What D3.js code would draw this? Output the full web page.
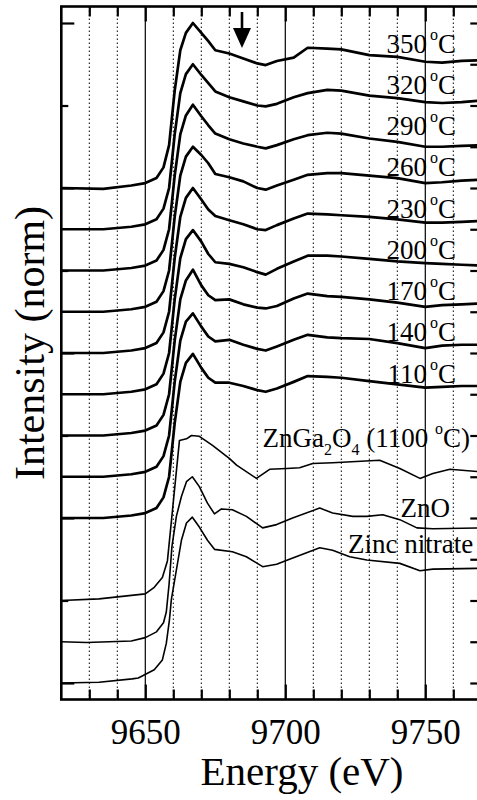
<!DOCTYPE html>
<html><head><meta charset="utf-8">
<script src="https://cdn.jsdelivr.net/npm/d3@7"></script>
<style>
body{margin:0;background:#fff}
svg{display:block}
text{font-family:"Liberation Serif","Times New Roman",serif;fill:#000}
</style>
</head><body>
<svg id="c" width="477" height="800"></svg>
<script>
// ---------- DATA ----------
const thickE = [9620, 9635, 9645, 9650, 9654, 9656.5, 9658.5, 9660.5, 9662.5, 9664.5, 9667, 9670, 9672.5, 9675, 9680, 9685, 9690, 9693, 9697, 9703, 9708, 9715, 9720, 9730, 9740, 9750, 9756, 9763, 9770];
const tempLabels = ["350", "320", "290", "260", "230", "200", "170", "140", "110"];
const tempOffsets = [6, 5.5, 5, 4.5, 4, 3.5, 3, 2.5, 2];
const mu350 = [0, -0.01, 0.03, 0.06, 0.12, 0.25, 0.52, 1.18, 1.67, 1.88, 2.00, 1.88, 1.78, 1.67, 1.63, 1.57, 1.51, 1.49, 1.54, 1.58, 1.70, 1.69, 1.68, 1.61, 1.59, 1.53, 1.52, 1.54, 1.55];
const mu320 = [0, 0, 0.03, 0.06, 0.12, 0.25, 0.50, 1.15, 1.65, 1.88, 2.00, 1.87, 1.77, 1.67, 1.60, 1.55, 1.50, 1.49, 1.52, 1.60, 1.65, 1.69, 1.68, 1.62, 1.59, 1.54, 1.53, 1.54, 1.56];
const mu290 = [0, 0, 0.03, 0.06, 0.12, 0.25, 0.50, 1.15, 1.65, 1.88, 2.01, 1.87, 1.76, 1.66, 1.59, 1.54, 1.50, 1.48, 1.52, 1.59, 1.64, 1.67, 1.66, 1.60, 1.56, 1.50, 1.50, 1.51, 1.52];
const mu260 = [0, 0, 0.03, 0.06, 0.12, 0.25, 0.50, 1.15, 1.65, 1.88, 2.00, 1.90, 1.80, 1.67, 1.63, 1.58, 1.50, 1.48, 1.53, 1.60, 1.66, 1.68, 1.68, 1.65, 1.62, 1.56, 1.57, 1.59, 1.60];
const mu230 = [0, 0, 0.03, 0.06, 0.12, 0.25, 0.50, 1.15, 1.65, 1.88, 2.00, 1.86, 1.74, 1.66, 1.61, 1.56, 1.50, 1.49, 1.55, 1.63, 1.69, 1.68, 1.67, 1.65, 1.62, 1.58, 1.58, 1.59, 1.60];
const mu200 = [0, 0, 0.03, 0.06, 0.12, 0.25, 0.50, 1.15, 1.65, 1.88, 1.99, 1.85, 1.70, 1.60, 1.58, 1.54, 1.48, 1.45, 1.52, 1.61, 1.68, 1.68, 1.67, 1.64, 1.61, 1.59, 1.58, 1.57, 1.56];
const mu170 = [0, 0, 0.03, 0.06, 0.12, 0.25, 0.50, 1.15, 1.65, 1.88, 2.01, 1.82, 1.70, 1.64, 1.65, 1.59, 1.55, 1.54, 1.57, 1.66, 1.72, 1.69, 1.68, 1.65, 1.61, 1.56, 1.58, 1.59, 1.60];
const mu140 = [0, 0, 0.03, 0.06, 0.12, 0.25, 0.50, 1.15, 1.65, 1.88, 1.98, 1.82, 1.70, 1.64, 1.66, 1.60, 1.55, 1.53, 1.58, 1.66, 1.72, 1.69, 1.68, 1.67, 1.62, 1.56, 1.59, 1.60, 1.60];
const mu110 = [0, 0, 0.03, 0.06, 0.12, 0.25, 0.50, 1.15, 1.65, 1.88, 1.99, 1.82, 1.70, 1.64, 1.64, 1.60, 1.55, 1.53, 1.57, 1.65, 1.72, 1.71, 1.70, 1.66, 1.62, 1.58, 1.59, 1.60, 1.60];
const thickMu = [mu350, mu320, mu290, mu260, mu230, mu200, mu170, mu140, mu110];

const znga2o4E  = [9620, 9633.5, 9650, 9653.2, 9656.1, 9657.9, 9662.2, 9664.7, 9666.5, 9669.3, 9674.0, 9680.1, 9682.6, 9689.7, 9694.4, 9700.5, 9705.1, 9709.8, 9716.9, 9733.7, 9740.9, 9748.1, 9752.7, 9758.8, 9770];
const znga2o4Mu = [0, 0.02, 0.08, 0.16, 0.28, 0.48, 1.94, 1.96, 2.00, 1.99, 1.88, 1.72, 1.64, 1.48, 1.59, 1.60, 1.61, 1.66, 1.67, 1.70, 1.60, 1.48, 1.54, 1.59, 1.56];
const znoE  = [9620, 9629, 9645, 9650, 9654, 9656.5, 9657.5, 9658.5, 9659.5, 9661.1, 9662.9, 9664.7, 9666.8, 9669.3, 9672.2, 9674.7, 9677.2, 9681.1, 9686.1, 9691.9, 9696.9, 9702.6, 9712.3, 9716.9, 9724.1, 9729.1, 9734.8, 9740.9, 9747, 9752.7, 9770];
const znoMu = [0, -0.01, 0.01, 0.05, 0.12, 0.23, 0.36, 0.70, 1.15, 1.52, 1.76, 1.94, 2.00, 1.88, 1.68, 1.55, 1.61, 1.60, 1.52, 1.38, 1.42, 1.50, 1.62, 1.56, 1.52, 1.52, 1.54, 1.48, 1.38, 1.37, 1.38];
const nitrateE  = [9620, 9633.5, 9645.3, 9647.5, 9653.2, 9656.1, 9657.5, 9658.6, 9659.3, 9662.9, 9664.7, 9666.8, 9669.3, 9672.2, 9674.7, 9681.1, 9686.1, 9691.9, 9696.9, 9701.5, 9712.3, 9716.9, 9723, 9729.1, 9740.9, 9748.1, 9752.7, 9770];
const nitrateMu = [0, 0.01, 0.05, 0.06, 0.16, 0.28, 0.48, 0.76, 1.01, 1.73, 1.94, 2.01, 1.89, 1.73, 1.62, 1.59, 1.53, 1.41, 1.44, 1.50, 1.64, 1.61, 1.53, 1.49, 1.45, 1.36, 1.38, 1.39];
const refOffsets = [1, 0.5, 0];

const xMajorTicks = [9650, 9700, 9750];
const xMinorTicks = [9630, 9640, 9660, 9670, 9680, 9690, 9710, 9720, 9730, 9740, 9760];
const yTicks = [0, 1, 2, 3, 4, 5, 6, 7, 8];
const yRightTicks = [0, 0.5, 1, 1.5, 2, 2.5, 3, 3.5, 4, 4.5, 5, 5.5, 6, 6.5, 7, 7.5, 8];

// ---------- CHART ----------
const svg = d3.select("#c");
const L = 61.3, R = 481.3, T = 6.5, B = 699.5;
const x = d3.scaleLinear().domain([9620, 9770]).range([L, R]);
const y = d3.scaleLinear().domain([-0.2, 8.2]).range([B, T]);

// grid
const g = svg.append("g");
g.selectAll("line.maj").data(xMajorTicks).join("line")
  .attr("x1", d => x(d)).attr("x2", d => x(d)).attr("y1", T).attr("y2", B)
  .attr("stroke", "#000").attr("stroke-width", 1.2);
g.selectAll("line.min").data(xMinorTicks).join("line")
  .attr("x1", d => x(d)).attr("x2", d => x(d)).attr("y1", T).attr("y2", B)
  .attr("stroke", "#000").attr("stroke-width", 1).attr("stroke-dasharray", "1.5,2.5");

const line = d3.line().x(d => x(d[0])).y(d => y(d[1]));

// thick curves
thickMu.forEach((mu, i) => {
  const pts = thickE.map((e, j) => [e, tempOffsets[i] + mu[j]]);
  svg.append("path").attr("d", line(pts)).attr("fill", "none")
    .attr("stroke", "#000").attr("stroke-width", 2.7).attr("stroke-linejoin", "round");
});
// reference curves
[[znga2o4E, znga2o4Mu], [znoE, znoMu], [nitrateE, nitrateMu]].forEach(([E, mu], i) => {
  const pts = E.map((e, j) => [e, refOffsets[i] + mu[j]]);
  svg.append("path").attr("d", line(pts)).attr("fill", "none")
    .attr("stroke", "#000").attr("stroke-width", 1.6).attr("stroke-linejoin", "round");
});

// frame
svg.append("rect").attr("x", L).attr("y", T).attr("width", R - L).attr("height", B - T)
  .attr("fill", "none").attr("stroke", "#000").attr("stroke-width", 2.6);

function axis(gen, tx, ty) {
  const a = svg.append("g").attr("transform", `translate(${tx},${ty})`).call(gen);
  a.select(".domain").remove();
  a.selectAll(".tick line").attr("stroke", "#000").attr("stroke-width", 2.2);
  return a;
}
// x ticks (inward)
axis(d3.axisBottom(x).tickValues(xMinorTicks).tickSize(-10).tickFormat(""), 0, B);
axis(d3.axisTop(x).tickValues(xMinorTicks).tickSize(-10).tickFormat(""), 0, T);
axis(d3.axisTop(x).tickValues(xMajorTicks).tickSize(-15).tickFormat(""), 0, T);
const xb = axis(d3.axisBottom(x).tickValues(xMajorTicks).tickSize(-15).tickPadding(30).tickFormat(d3.format("d")), 0, B);
xb.selectAll("text").attr("font-size", 35).attr("font-family", "Liberation Serif, Times New Roman, serif").attr("dy", 0).attr("y", 44);

// y ticks (inward)
axis(d3.axisLeft(y).tickValues(yTicks.filter(d => d % 2 === 0)).tickSize(-13).tickFormat(""), L, 0);
axis(d3.axisLeft(y).tickValues(yTicks.filter(d => d % 2 === 1)).tickSize(-7).tickFormat(""), L, 0);
axis(d3.axisRight(y).tickValues(yRightTicks).tickSize(-11).tickFormat(""), R, 0);

// arrow
const ax = 242;
svg.append("line").attr("x1", ax).attr("x2", ax).attr("y1", 12).attr("y2", 34)
  .attr("stroke", "#000").attr("stroke-width", 2.6);
svg.append("path").attr("d", `M${ax - 9},28 L${ax + 9},28 L${ax},48 Z`).attr("fill", "#000");

// temperature labels
tempLabels.forEach((t, i) => {
  const tx = svg.append("text").attr("x", 456).attr("y", y(tempOffsets[i] + 1.64))
    .attr("text-anchor", "end").attr("font-size", 27);
  tx.append("tspan").text(t);
  tx.append("tspan").attr("dx", 3).attr("dy", -13).attr("font-size", 16).text("o");
  tx.append("tspan").attr("dy", 13).text("C");
});

// reference labels
const zl = svg.append("text").attr("x", 470).attr("y", 447).attr("text-anchor", "end").attr("font-size", 27);
zl.append("tspan").text("ZnGa");
zl.append("tspan").attr("dy", 8).attr("font-size", 16).text("2");
zl.append("tspan").attr("dy", -8).text("O");
zl.append("tspan").attr("dy", 8).attr("font-size", 16).text("4");
zl.append("tspan").attr("dy", -8).text(" (1100 ");
zl.append("tspan").attr("dy", -13).attr("font-size", 16).text("o");
zl.append("tspan").attr("dy", 13).text("C)");

svg.append("text").attr("x", 450).attr("y", 517).attr("text-anchor", "end").attr("font-size", 27).text("ZnO");
svg.append("text").attr("x", 348).attr("y", 553).attr("font-size", 27).text("Zinc nitrate");

// axis titles
svg.append("text").attr("x", 302).attr("y", 785).attr("text-anchor", "middle").attr("font-size", 41).text("Energy (eV)");
svg.append("text").attr("transform", "translate(44,343) rotate(-90)").attr("text-anchor", "middle").attr("font-size", 42).text("Intensity (norm)");
</script>
</body></html>
